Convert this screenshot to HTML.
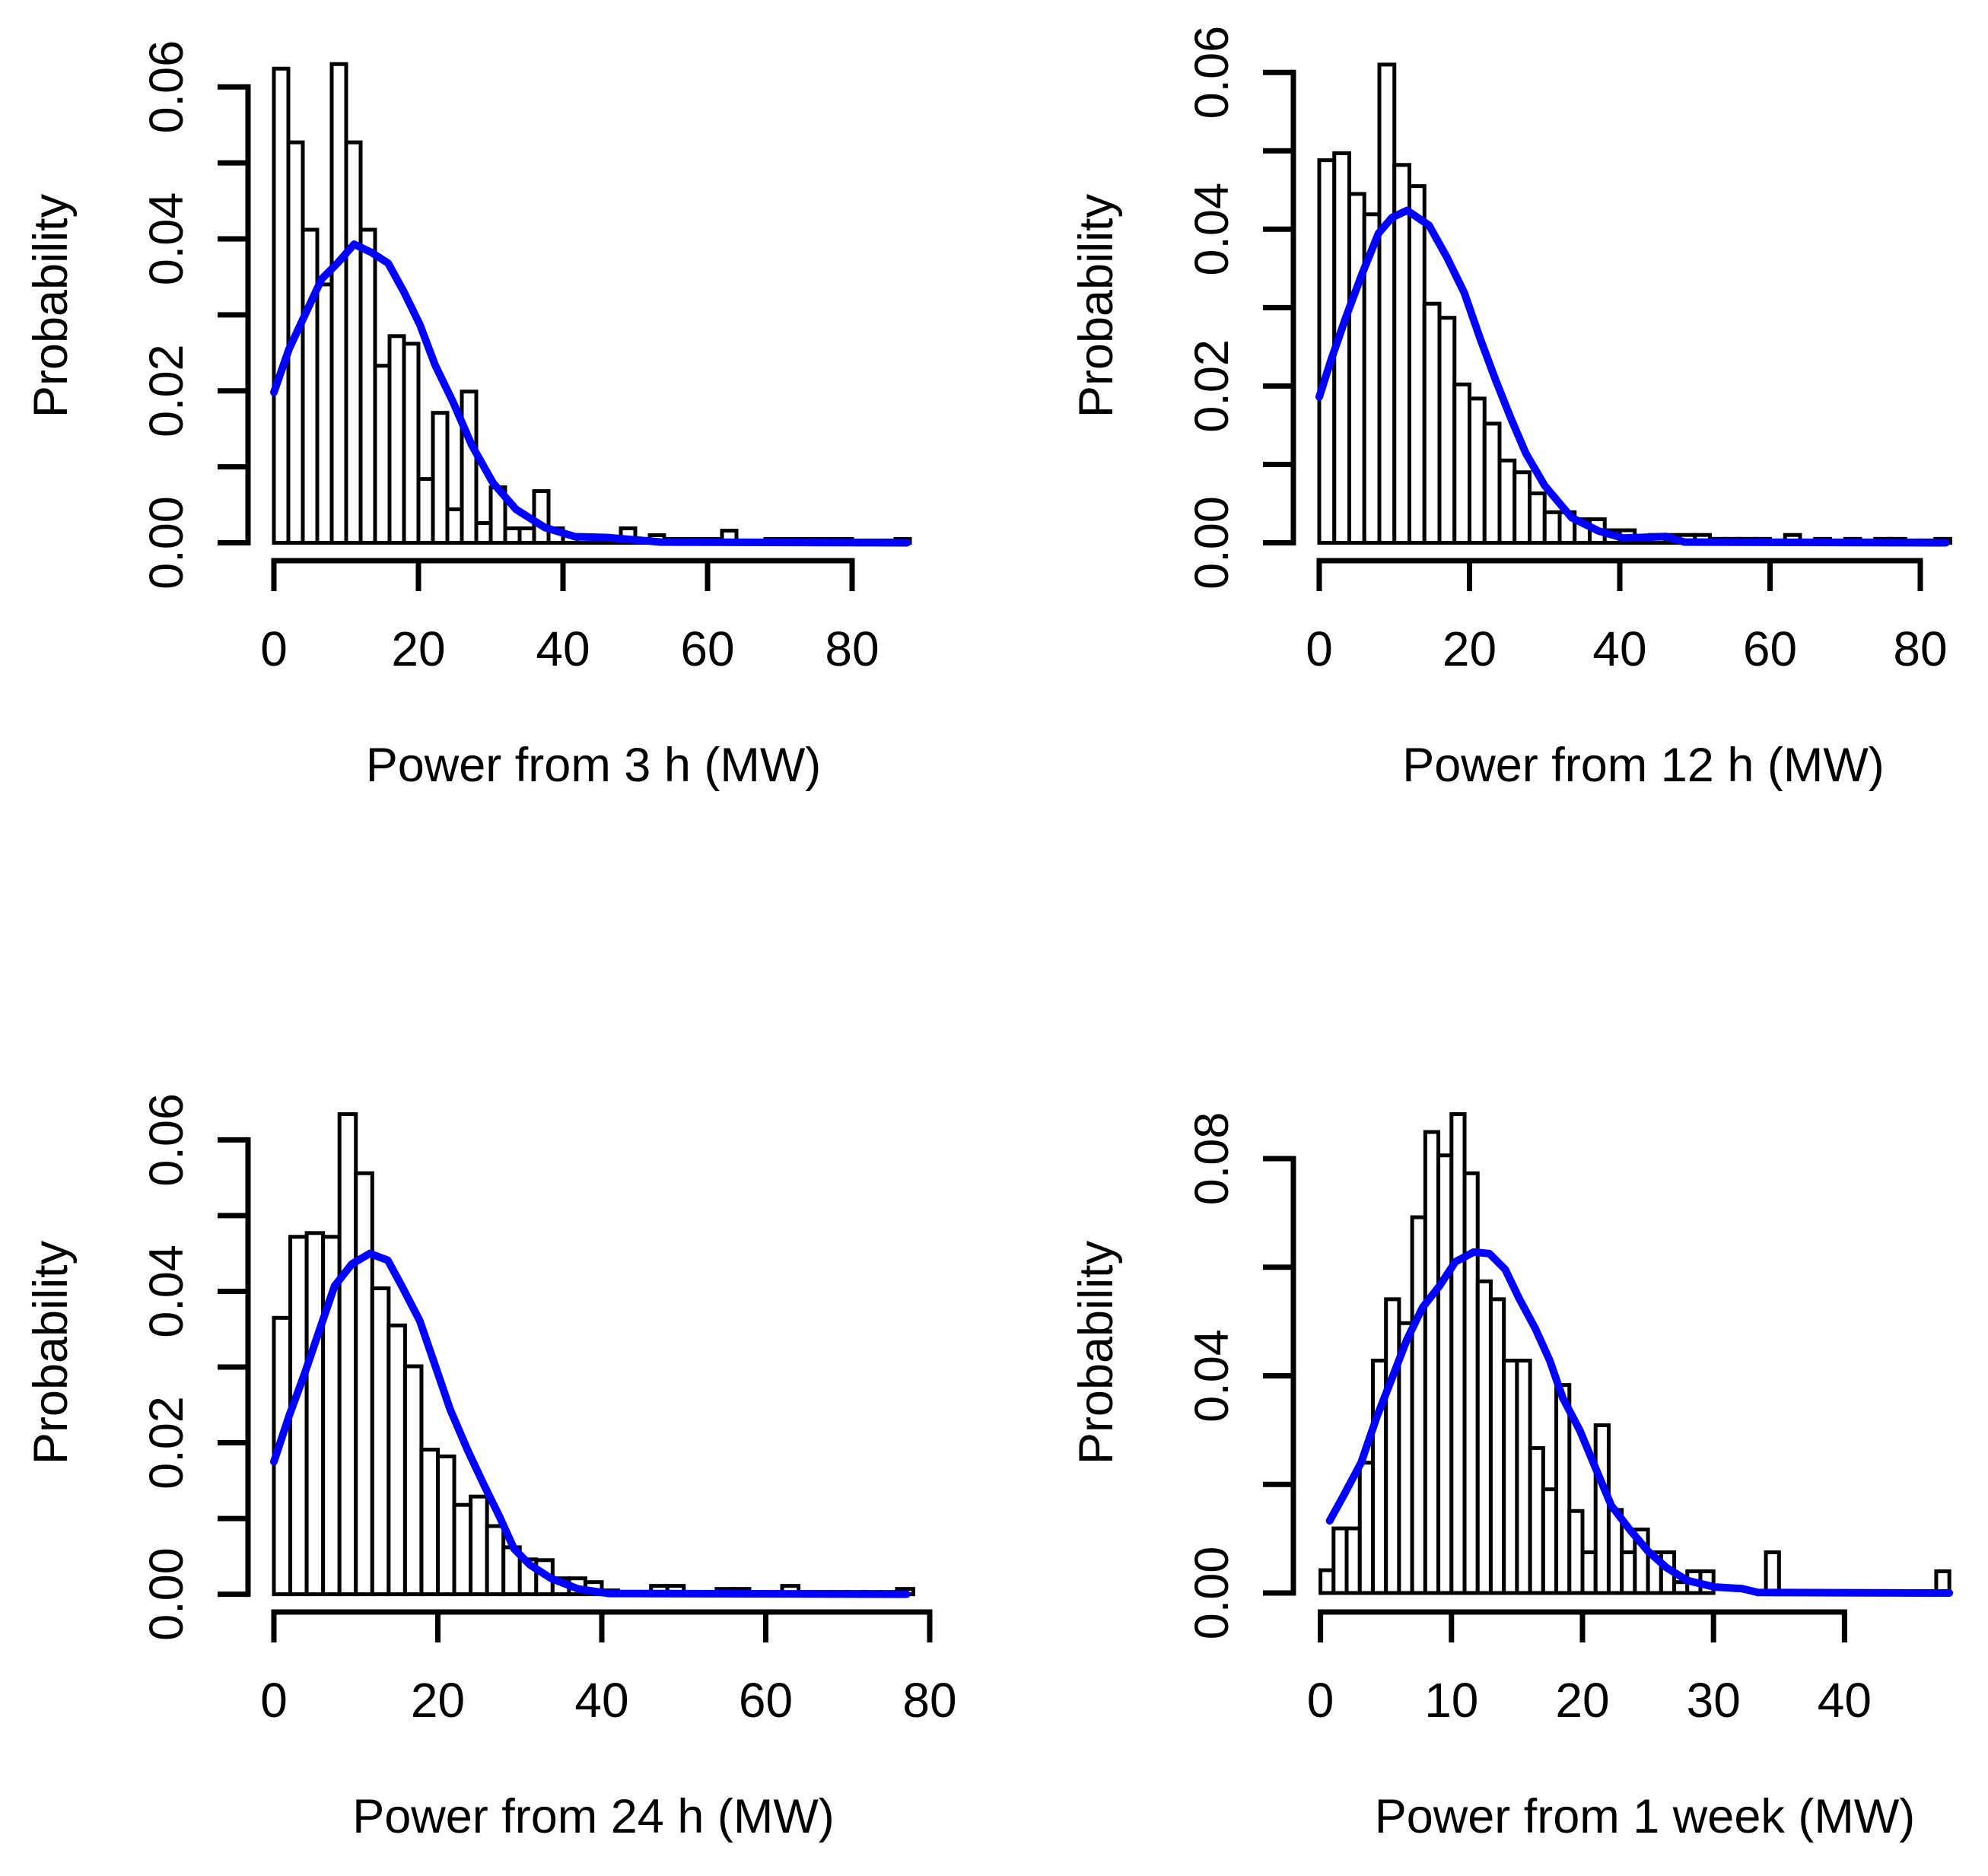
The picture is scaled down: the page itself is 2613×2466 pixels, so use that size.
<!DOCTYPE html>
<html><head><meta charset="utf-8"><style>
html,body{margin:0;padding:0;background:#fff}
svg{display:block}
text{font-family:"Liberation Sans",Arial,sans-serif;fill:#000}
</style></head><body>
<svg id="chart" width="2613" height="2466" viewBox="0 0 2613 2466" xmlns="http://www.w3.org/2000/svg"></svg>
<script>
// ---- Data: panel 1 (3 h), bin width 2
const p1Bins = [0.0624,0.0527,0.0412,0.034,0.063,0.0527,0.0412,0.0233,0.0272,0.0262,0.0084,0.0171,0.0044,0.0199,0.0026,0.0073,0.0019,0.0019,0.0068,0.0019,0.001,0.001,0.0005,0.0005,0.0019,0.0005,0.001,0.0005,0.0005,0.0005,0.0005,0.0016,0.0003,0.0003,0.0005,0.0005,0.0005,0.0005,0.0005,0.0005,0.0003,0.0003,0.0003,0.0005];
const p1CurveX = [0,2.1,4.2,6.6,8.8,11.1,13.5,15.8,18,20.2,22.3,24.8,27.4,30.3,33.5,37.5,41.7,46,53.5,87.6];
const p1CurveY = [0.0198,0.0255,0.0298,0.0347,0.0368,0.0393,0.0382,0.0368,0.033,0.0287,0.0234,0.0185,0.0128,0.0079,0.0044,0.002,0.0008,0.0007,0.0001,0];
// panel 2 (12 h)
const p2Bins = [0.0488,0.0497,0.0445,0.0419,0.061,0.0482,0.0455,0.0305,0.0287,0.0202,0.0184,0.0152,0.0105,0.009,0.0063,0.0039,0.0039,0.003,0.003,0.0016,0.0016,0.0005,0.001,0.001,0.001,0.001,0.0005,0.0005,0.0005,0.0005,0.0003,0.001,0.0003,0.0005,0.0003,0.0005,0.0003,0.0005,0.0005,0.0003,0.0003,0.0005];
const p2CurveX = [0,1.6,3.6,5.7,7.9,9.7,11.7,14.6,17,19.3,21.4,23.5,25.5,27.5,30,33.6,37.2,40.5,46.2,48.6,83.4];
const p2CurveY = [0.0186,0.0234,0.0289,0.0343,0.0395,0.0415,0.0424,0.0405,0.0364,0.0319,0.0261,0.0207,0.0159,0.0114,0.0073,0.0032,0.0015,0.0006,0.0008,0.0001,0];
// panel 3 (24 h)
const p3Bins = [0.0365,0.0472,0.0477,0.0472,0.0634,0.0556,0.0404,0.0355,0.0301,0.0191,0.0182,0.0118,0.0129,0.009,0.0062,0.0046,0.0045,0.0021,0.0021,0.0016,0.0005,0.0003,0.0003,0.0011,0.0011,0.0003,0.0003,0.0007,0.0007,0.0003,0.0003,0.0011,0.0003,0.0003,0.0003,0.0003,0.0003,0.0003,0.0007];
const p3CurveX = [0,1.9,3.7,5.6,7.4,9.5,11.7,13.9,15.6,17.8,19.7,21.5,23.6,25.6,27.5,29.3,31.2,33.8,37.1,40.8,77.2];
const p3CurveY = [0.0175,0.0237,0.029,0.035,0.0407,0.0436,0.045,0.0441,0.0407,0.0361,0.0301,0.0244,0.0191,0.0145,0.0103,0.006,0.0039,0.0021,0.0007,0.0001,0];
// panel 4 (1 week), bin width 1
const p4Bins = [0.0042,0.0119,0.0119,0.024,0.0428,0.0541,0.0497,0.0692,0.0849,0.0806,0.0882,0.0773,0.0574,0.0541,0.0428,0.0428,0.0267,0.0191,0.0383,0.0151,0.0075,0.0309,0.0153,0.0075,0.0117,0.0075,0.0075,0.002,0.004,0.004,0,0,0,0,0.0075,0,0,0,0,0,0,0,0,0,0,0,0,0.004];
const p4CurveX = [0.7,1.8,3.1,4.3,5.5,6.6,7.8,9.1,10.3,11.7,12.9,14.1,15.2,16.4,17.5,18.5,19.8,21,22.2,23.6,25,26.4,28,30.1,32.2,33.4,48];
const p4CurveY = [0.0133,0.0181,0.024,0.0324,0.0398,0.0467,0.0526,0.0566,0.061,0.0628,0.0625,0.0596,0.0541,0.0487,0.0428,0.0359,0.0299,0.023,0.0161,0.0117,0.0077,0.0047,0.0023,0.0011,0.0008,0.0001,0];
const xTicks13 = [0,20,40,60,80];
const xTicks4 = [0,10,20,30,40];
const yTicks6 = [0,0.01,0.02,0.03,0.04,0.05,0.06];
const yTicks8 = [0,0.02,0.04,0.06,0.08];
const titles = ["Power from 3 h (MW)","Power from 12 h (MW)","Power from 24 h (MW)","Power from 1 week (MW)"];

const NS = "http://www.w3.org/2000/svg";
const svg = document.getElementById('chart');
function mk(tag, attrs, parent){const e=document.createElementNS(NS,tag);for(const k in attrs)e.setAttribute(k,attrs[k]);(parent||svg).appendChild(e);return e;}

function panel(cfg){
  const g = mk('g',{});
  
  
  const sx = v => cfg.x0 + (v - cfg.xmin)/(cfg.xmax - cfg.xmin)*(cfg.x1 - cfg.x0);
  const sy = v => cfg.y0 - (v - cfg.ymin)/(cfg.ymax - cfg.ymin)*(cfg.y0 - cfg.y1);
  cfg.bins.forEach((v,i)=>{
    const a = sx(cfg.binStart + i*cfg.binW), b = sx(cfg.binStart + (i+1)*cfg.binW);
    const r = mk('rect',{x:a,y:sy(v),width:b-a,height:sy(0)-sy(v),fill:'#fff',stroke:'#000','stroke-width':5},g);
    
    
  });
  const pts = cfg.cx.map((x,i)=>sx(x).toFixed(1)+','+sy(cfg.cy[i]).toFixed(1)).join(' ');
  const pl = mk('polyline',{points:pts,fill:'none',stroke:'#0000ff','stroke-width':10,'stroke-linejoin':'round','stroke-linecap':'round'},g);
  
  
  const ya = mk('g',{},g);
  
  
  const yt = cfg.yTicks;
  mk('line',{x1:cfg.yAxisX,x2:cfg.yAxisX,y1:sy(yt[0]),y2:sy(yt[yt.length-1]),stroke:'#000','stroke-width':7,'stroke-linecap':'square'},ya);
  yt.forEach((v,i)=>{
    mk('line',{x1:cfg.yAxisX-40,x2:cfg.yAxisX,y1:sy(v),y2:sy(v),stroke:'#000','stroke-width':7},ya);
    if(i % cfg.yLabelEvery === 0){
      const t = mk('text',{x:0,y:0,transform:`translate(${cfg.yAxisX-86},${sy(v)}) rotate(-90)`,'text-anchor':'middle','font-size':63},ya);
      t.textContent = v.toFixed(2);
      
      
    }
  });
  const xa = mk('g',{},g);
  
  
  const xt = cfg.xTicks;
  mk('line',{x1:sx(xt[0]),x2:sx(xt[xt.length-1]),y1:cfg.xAxisY,y2:cfg.xAxisY,stroke:'#000','stroke-width':7,'stroke-linecap':'square'},xa);
  xt.forEach(v=>{
    mk('line',{x1:sx(v),x2:sx(v),y1:cfg.xAxisY,y2:cfg.xAxisY+40,stroke:'#000','stroke-width':7},xa);
    const t = mk('text',{x:sx(v),y:cfg.xAxisY+138,'text-anchor':'middle','font-size':64},xa);
    t.textContent = v;
    
    
  });
  const xt2 = mk('text',{x:cfg.titleX,y:cfg.xAxisY+290,'text-anchor':'middle','font-size':63},g);
  xt2.textContent = cfg.title;
  
  
  const yl = mk('text',{x:0,y:0,transform:`translate(${cfg.yLabelX},${cfg.yLabelY}) rotate(-90)`,'text-anchor':'middle','font-size':63},g);
  yl.textContent = 'Probability';
  
  
}

panel({name:'panel-3h',bins:p1Bins,binStart:0,binW:2,cx:p1CurveX,cy:p1CurveY,xmin:0,xmax:80,x0:360,x1:1120,ymin:0,ymax:0.06,y0:713.5,y1:114.2,yAxisX:326,xAxisY:737,yTicks:yTicks6,yLabelEvery:2,xTicks:xTicks13,title:titles[0],titleX:780,yLabelX:88,yLabelY:402});
panel({name:'panel-12h',bins:p2Bins,binStart:0,binW:2,cx:p2CurveX,cy:p2CurveY,xmin:0,xmax:80,x0:1734,x1:2524,ymin:0,ymax:0.06,y0:713.5,y1:95.2,yAxisX:1700,xAxisY:737,yTicks:yTicks6,yLabelEvery:2,xTicks:xTicks13,title:titles[1],titleX:2160,yLabelX:1462,yLabelY:402});
panel({name:'panel-24h',bins:p3Bins,binStart:0,binW:2,cx:p3CurveX,cy:p3CurveY,xmin:0,xmax:80,x0:360,x1:1222,ymin:0,ymax:0.06,y0:2095.6,y1:1498.4,yAxisX:326,xAxisY:2119,yTicks:yTicks6,yLabelEvery:2,xTicks:xTicks13,title:titles[2],titleX:780,yLabelX:88,yLabelY:1778});
panel({name:'panel-1week',bins:p4Bins,binStart:0,binW:1,cx:p4CurveX,cy:p4CurveY,xmin:0,xmax:40,x0:1735.6,x1:2424.4,ymin:0,ymax:0.08,y0:2094,y1:1523,yAxisX:1700,xAxisY:2119,yTicks:yTicks8,yLabelEvery:2,xTicks:xTicks4,title:titles[3],titleX:2162,yLabelX:1462,yLabelY:1778});
</script>
</body></html>
